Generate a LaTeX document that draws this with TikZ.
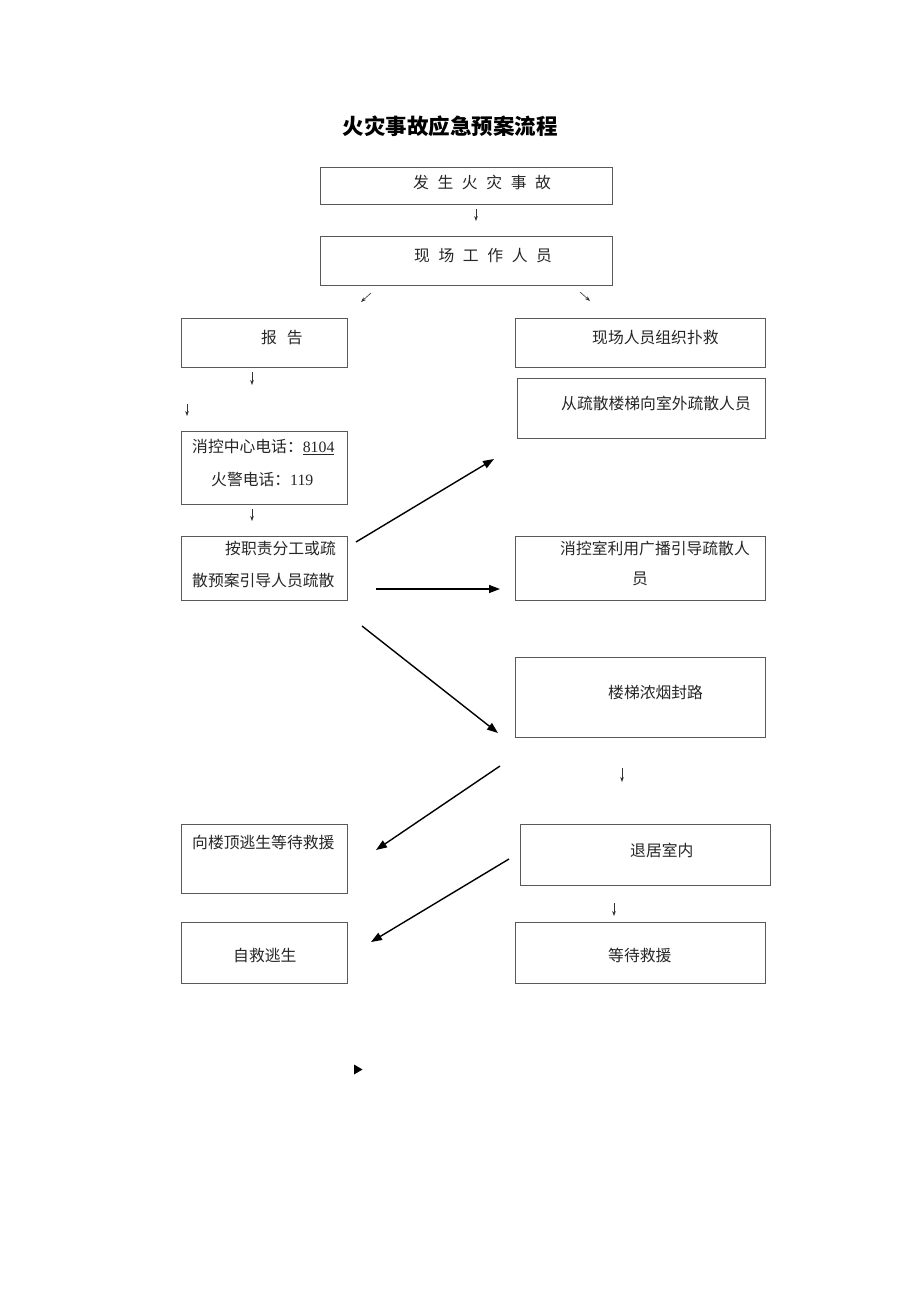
\documentclass[tikz,border=0pt]{standalone}
\usepackage{fontspec}
\setmainfont{Liberation Serif}
\newfontfamily\cjk{Noto Sans CJK SC}
\usetikzlibrary{arrows.meta}
\newcommand{\gapsp}{\hspace{8.6pt}}
\begin{document}
\begin{tikzpicture}[x=1pt,y=-1pt,
  box/.style={draw=black!65, line width=0.8pt, inner sep=0pt, anchor=north west},
  txt/.style={inner sep=0pt, anchor=west, text=black!85, font=\cjk\fontsize{15.8pt}{18pt}\selectfont},
  smallarr/.style={-{Stealth[length=5pt,width=3.6pt]}, line width=0.6pt, draw=black!80},
  bigarr/.style={-{Triangle[length=11pt,width=8pt]}, line width=1.4pt, draw=black}
]
\useasboundingbox (0,0) rectangle (920,1302);
\fill[white] (0,0) rectangle (920,1302);

% title
\node[inner sep=0pt, font=\cjk\bfseries\fontsize{21.5pt}{24pt}\selectfont] (title) at (450,126) {火灾事故应急预案流程};

% boxes
\node[box, minimum width=292pt, minimum height=37pt] (b1) at (320,167) {};
\node[box, minimum width=292pt, minimum height=49pt] (b2) at (320,236) {};
\node[box, minimum width=166pt, minimum height=49pt] (rep) at (181,318) {};
\node[box, minimum width=166pt, minimum height=73pt] (call) at (181,431) {};
\node[box, minimum width=166pt, minimum height=64pt] (duty) at (181,536) {};
\node[box, minimum width=250pt, minimum height=49pt] (rescue) at (515,318) {};
\node[box, minimum width=248pt, minimum height=60pt] (stairs) at (517,378) {};
\node[box, minimum width=250pt, minimum height=64pt] (bcast) at (515,536) {};
\node[box, minimum width=250pt, minimum height=80pt] (smoke) at (515,657) {};
\node[box, minimum width=250pt, minimum height=61pt] (retreat) at (520,824) {};
\node[box, minimum width=250pt, minimum height=61pt] (wait) at (515,922) {};
\node[box, minimum width=166pt, minimum height=69pt] (roof) at (181,824) {};
\node[box, minimum width=166pt, minimum height=61pt] (self) at (181,922) {};

% texts
\node[txt] (t1) at (413,182) {发\gapsp 生\gapsp 火\gapsp 灾\gapsp 事\gapsp 故};
\node[txt] (t2) at (414,256) {现\gapsp 场\gapsp 工\gapsp 作\gapsp 人\gapsp 员};
\node[txt] (t3) at (261,338) {报\hspace{10pt}告};
\node[txt] (t4a) at (192,447) {消控中心电话：{\rmfamily\underline{8104}}};
\node[txt] (t4b) at (211,479) {火警电话：{\rmfamily 119}};
\node[txt, anchor=east] (t5a) at (336,548) {按职责分工或疏};
\node[txt] (t5b) at (192,580) {散预案引导人员疏散};
\node[txt] (t6) at (592,338) {现场人员组织扑救};
\node[txt] (t7) at (561,403) {从疏散楼梯向室外疏散人员};
\node[txt] (t8a) at (560,548) {消控室利用广播引导疏散人};
\node[txt] (t8b) at (632,579) {员};
\node[txt] (t9) at (608,692) {楼梯浓烟封路};
\node[txt] (t10) at (630,850) {退居室内};
\node[txt] (t11) at (608,955) {等待救援};
\node[txt] (t12) at (192,842) {向楼顶逃生等待救援};
\node[txt] (t13) at (233,955) {自救逃生};

% small arrows
\coordinate (s1a) at (476,209); \coordinate (s1b) at (476,221);
\coordinate (s2a) at (371,293); \coordinate (s2b) at (361,302);
\coordinate (s3a) at (580,292); \coordinate (s3b) at (590,301);
\coordinate (s4a) at (252,372); \coordinate (s4b) at (252,385);
\coordinate (s5a) at (187,404); \coordinate (s5b) at (187,416);
\coordinate (s6a) at (252,509); \coordinate (s6b) at (252,521);
\coordinate (s7a) at (622,768); \coordinate (s7b) at (622,782);
\coordinate (s8a) at (614,903); \coordinate (s8b) at (614,916);
\foreach \i in {1,...,8} {\draw[smallarr] (s\i a) -- (s\i b);}

% big arrows
\coordinate (g1a) at (356,542); \coordinate (g1b) at (494,459);
\coordinate (g2a) at (376,589); \coordinate (g2b) at (500,589);
\coordinate (g3a) at (362,626); \coordinate (g3b) at (498,733);
\coordinate (g4a) at (500,766); \coordinate (g4b) at (376,850);
\coordinate (g5a) at (509,859); \coordinate (g5b) at (371,942);
\foreach \i in {1,...,5} {\draw[bigarr] (g\i a) -- (g\i b);}

% lone arrowhead
\fill[black] (354,1064.5) -- (362.5,1069.5) -- (354,1074.5) -- cycle;
\end{tikzpicture}
\end{document}
